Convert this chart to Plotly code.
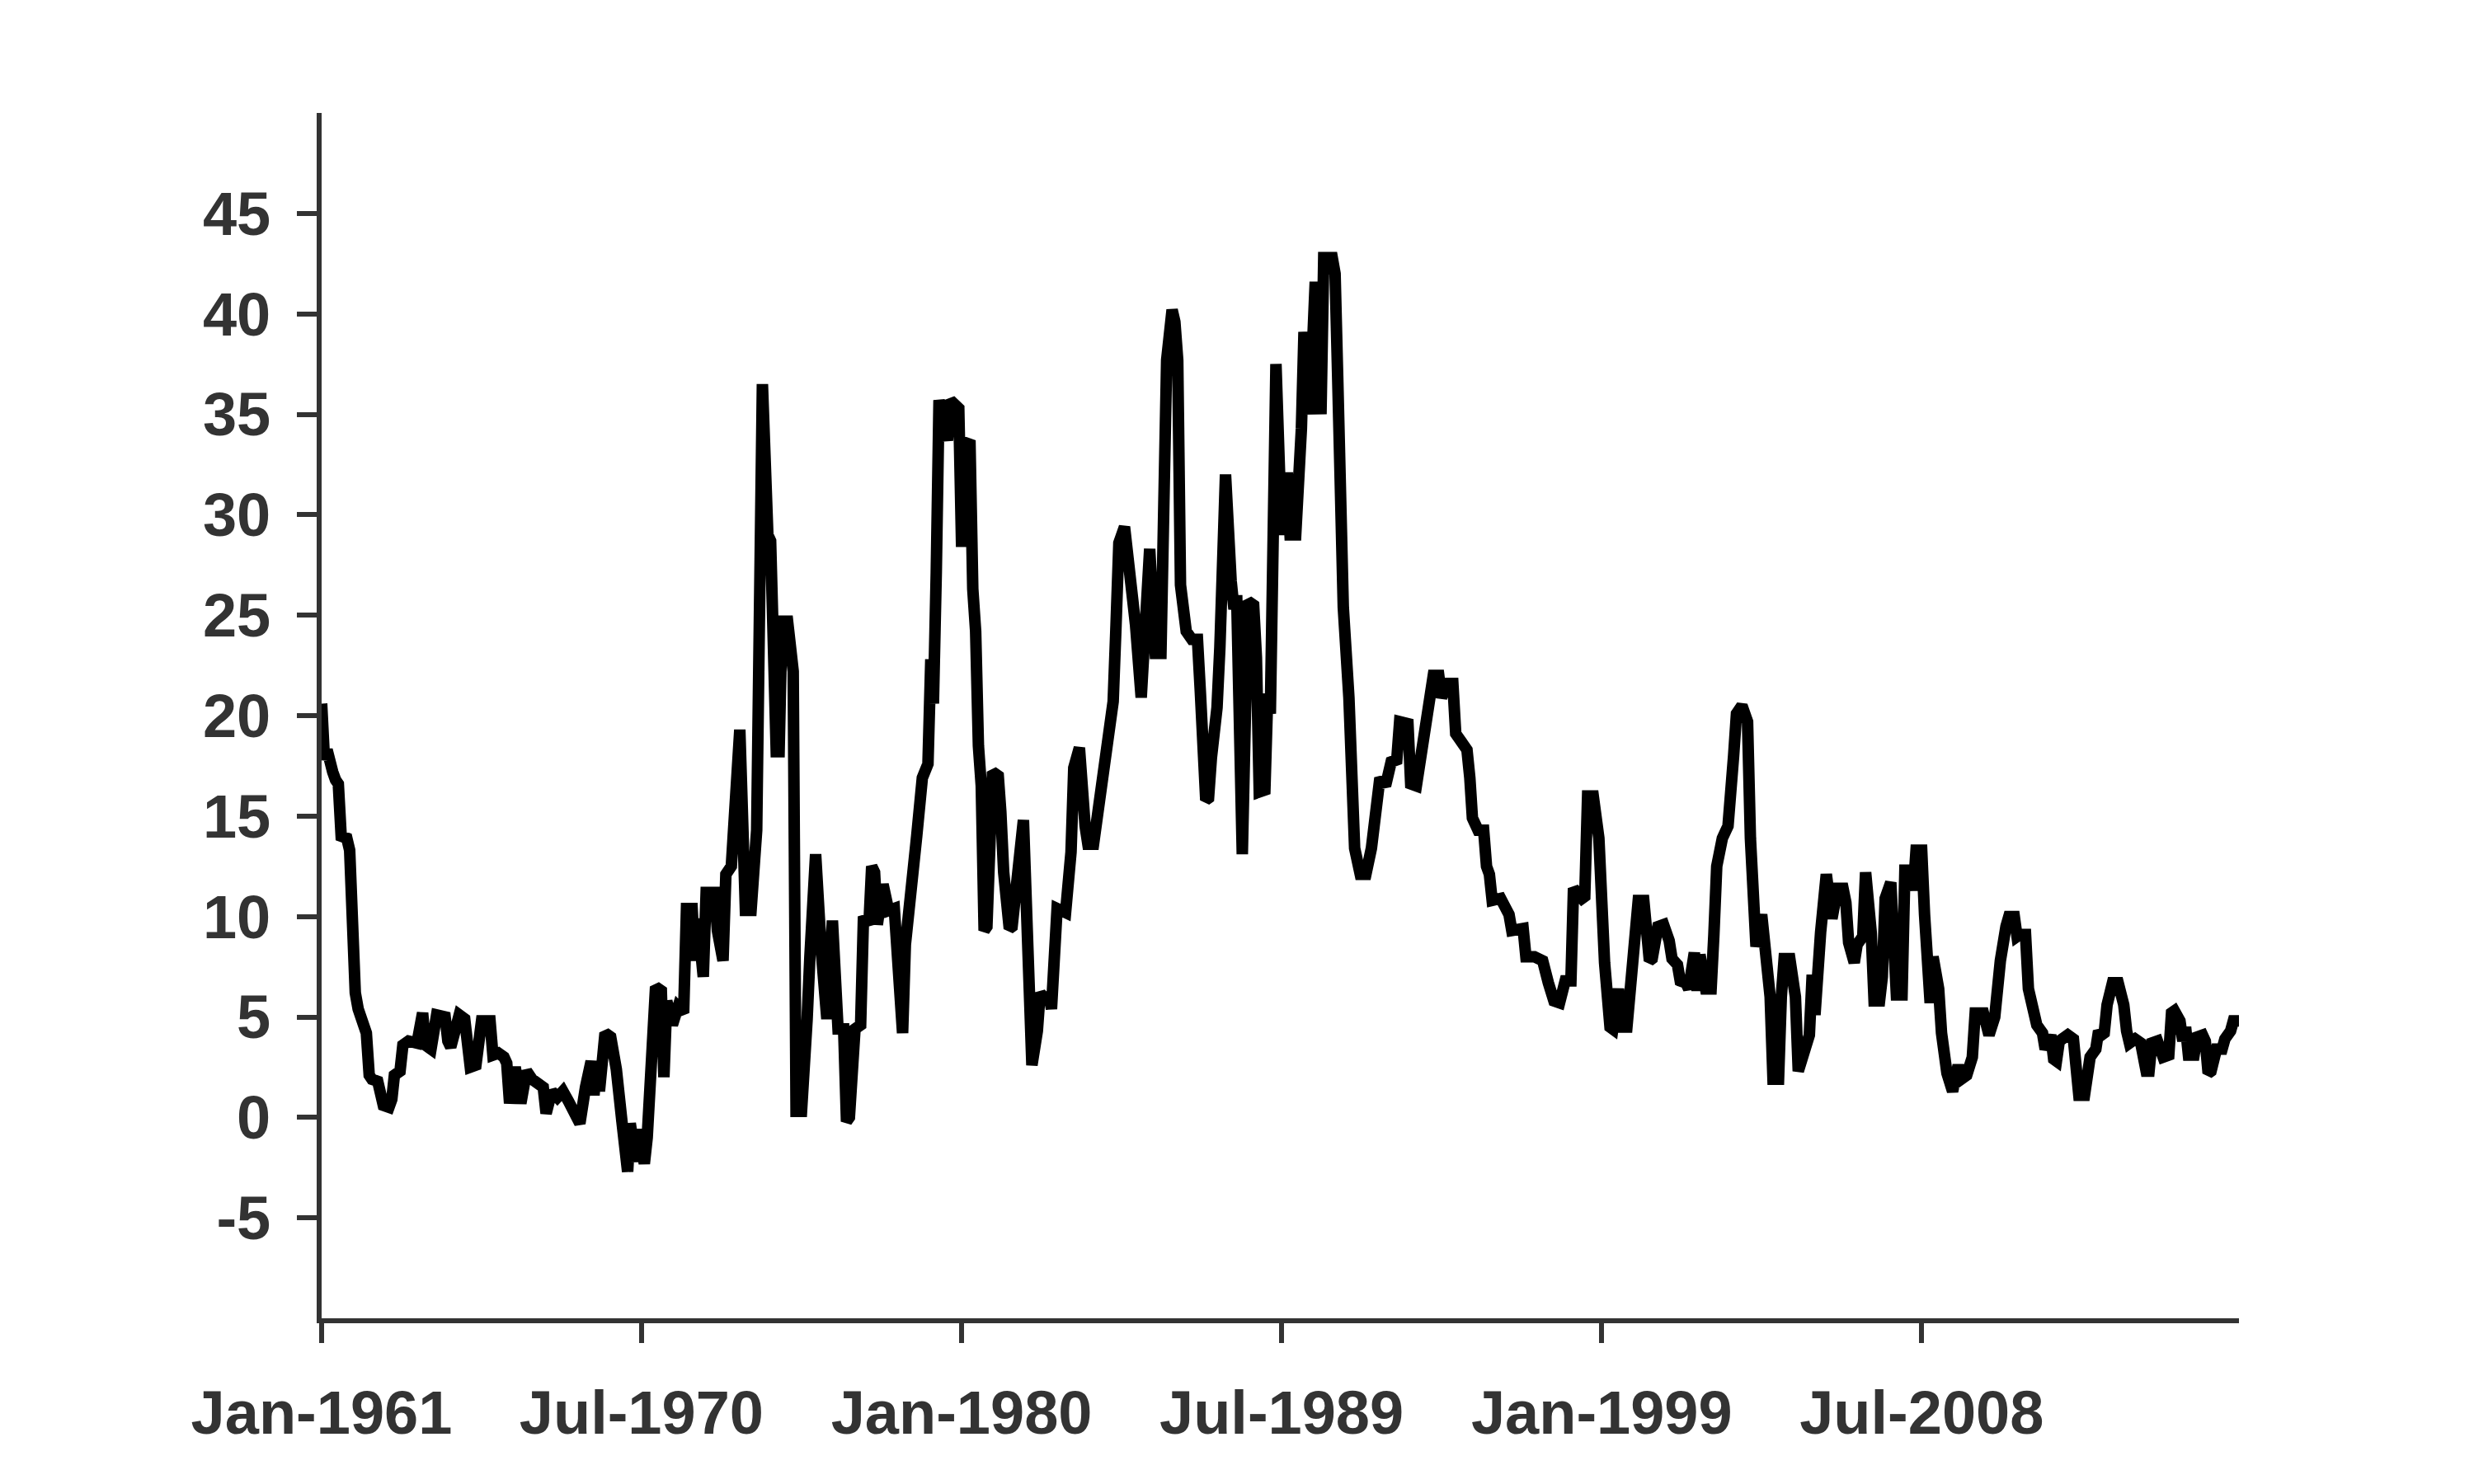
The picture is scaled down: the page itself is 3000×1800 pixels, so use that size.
import plotly.graph_objects as go

# ---- data (month, value) ----
dates = [
    "1961-01", "1961-02", "1961-03", "1961-04", "1961-05", "1961-06", "1961-07", "1961-08", "1961-10", "1961-11", "1961-12",
    "1962-01", "1962-02", "1962-03", "1962-05", "1962-06", "1962-07", "1962-09", "1962-10", "1962-11",
    "1963-01", "1963-02", "1963-03", "1963-05", "1963-06", "1963-08", "1963-11",
    "1964-01", "1964-02", "1964-04", "1964-06", "1964-09", "1964-10", "1964-11",
    "1965-02", "1965-04", "1965-06", "1965-08", "1965-10",
    "1966-01", "1966-02", "1966-04", "1966-06", "1966-07", "1966-08", "1966-10", "1966-12",
    "1967-02", "1967-04", "1967-06", "1967-08", "1967-09", "1967-11",
    "1968-01", "1968-03", "1968-05", "1968-08", "1968-09", "1968-11",
    "1969-01", "1969-02", "1969-03", "1969-04", "1969-06", "1969-08", "1969-10", "1969-12",
    "1970-02", "1970-03", "1970-05", "1970-06", "1970-08", "1970-09", "1970-10", "1970-12",
    "1971-02", "1971-03", "1971-04", "1971-06", "1971-08", "1971-10", "1971-11",
    "1972-01", "1972-02", "1972-03", "1972-05", "1972-06", "1972-09", "1972-10", "1972-12",
    "1973-01", "1973-03", "1973-04", "1973-06", "1973-08", "1973-10", "1973-12",
    "1974-02", "1974-04", "1974-05", "1974-07", "1974-08", "1974-09", "1974-11",
    "1975-01", "1975-02", "1975-04", "1975-05", "1975-06", "1975-07", "1975-09", "1975-11",
    "1976-01", "1976-03", "1976-05", "1976-07", "1976-08", "1976-09", "1976-11",
    "1977-01", "1977-02", "1977-04", "1977-05", "1977-06", "1977-07", "1977-09", "1977-11",
    "1978-01", "1978-03", "1978-04", "1978-05", "1978-07", "1978-09", "1978-11",
    "1979-01", "1979-02", "1979-03", "1979-04", "1979-05", "1979-08", "1979-09", "1979-12",
    "1980-01", "1980-02", "1980-04", "1980-05", "1980-06", "1980-07", "1980-08", "1980-09", "1980-10", "1980-12",
    "1981-02", "1981-03", "1981-04", "1981-06", "1981-07", "1981-11",
    "1982-02", "1982-04", "1982-05", "1982-07", "1982-08", "1982-09", "1982-11",
    "1983-02", "1983-04", "1983-05", "1983-07", "1983-09", "1983-10", "1983-12",
    "1984-02", "1984-04", "1984-05", "1984-07", "1984-08", "1984-09", "1984-11",
    "1985-01", "1985-02", "1985-03", "1985-05", "1985-07", "1985-08", "1985-10", "1985-12",
    "1986-02", "1986-04", "1986-05", "1986-06", "1986-07", "1986-09", "1986-11",
    "1987-01", "1987-02", "1987-04", "1987-05", "1987-06", "1987-07", "1987-08", "1987-09", "1987-11",
    "1988-01", "1988-02", "1988-03", "1988-05", "1988-07", "1988-09", "1988-10", "1988-11",
    "1989-01", "1989-02", "1989-03", "1989-05", "1989-07", "1989-09", "1989-10", "1989-12",
    "1990-02", "1990-03", "1990-05", "1990-07", "1990-09", "1990-10",
    "1991-01", "1991-02", "1991-03", "1991-04", "1991-05", "1991-07", "1991-08", "1991-09", "1991-11",
    "1992-01", "1992-03", "1992-05", "1992-06", "1992-08", "1992-10", "1992-12",
    "1993-01", "1993-04", "1993-05", "1993-07", "1993-09", "1993-11",
    "1994-01", "1994-03", "1994-04", "1994-06", "1994-08", "1994-09", "1994-11",
    "1995-01", "1995-02", "1995-03", "1995-05", "1995-07", "1995-08", "1995-09", "1995-10",
    "1996-01", "1996-04", "1996-05", "1996-09", "1996-10",
    "1997-01", "1997-04", "1997-06", "1997-08", "1997-10", "1997-12",
    "1998-02", "1998-03", "1998-06", "1998-07", "1998-08", "1998-10", "1998-12",
    "1999-01", "1999-02", "1999-04", "1999-05", "1999-07", "1999-08", "1999-10", "1999-12",
    "2000-02", "2000-04", "2000-06", "2000-07", "2000-09", "2000-11",
    "2001-01", "2001-02", "2001-04", "2001-05", "2001-07", "2001-08", "2001-10", "2001-11", "2001-12",
    "2002-02", "2002-04", "2002-05", "2002-06", "2002-08", "2002-10", "2002-12",
    "2003-01", "2003-03", "2003-05", "2003-06", "2003-07", "2003-08", "2003-10", "2003-11",
    "2004-01", "2004-02", "2004-04", "2004-05", "2004-06", "2004-08", "2004-10", "2004-11",
    "2005-01", "2005-03", "2005-04", "2005-05", "2005-07", "2005-09", "2005-11",
    "2006-01", "2006-03", "2006-04", "2006-05", "2006-07", "2006-08", "2006-10", "2006-11",
    "2007-01", "2007-02", "2007-04", "2007-05", "2007-06", "2007-08", "2007-10", "2007-12",
    "2008-01", "2008-03", "2008-04", "2008-05", "2008-07", "2008-08", "2008-09", "2008-10", "2008-11",
    "2009-01", "2009-02", "2009-03", "2009-04", "2009-06", "2009-08", "2009-09", "2009-11",
    "2010-01", "2010-02", "2010-05", "2010-06", "2010-07", "2010-09", "2010-10", "2010-11",
    "2011-01", "2011-02", "2011-04", "2011-05", "2011-06", "2011-08", "2011-09", "2011-10", "2011-12",
    "2012-02", "2012-03", "2012-04", "2012-05", "2012-06", "2012-07", "2012-08", "2012-10", "2012-11",
    "2013-01", "2013-02", "2013-03", "2013-05", "2013-06", "2013-07", "2013-09", "2013-10", "2013-11", "2013-12",
    "2014-01", "2014-02", "2014-03", "2014-05", "2014-07", "2014-08", "2014-09", "2014-11",
    "2015-01", "2015-03", "2015-04", "2015-05", "2015-07", "2015-09", "2015-11", "2015-12",
    "2016-01", "2016-03", "2016-04", "2016-05", "2016-06", "2016-08", "2016-09", "2016-11", "2016-12",
    "2017-01", "2017-02", "2017-04", "2017-06", "2017-07", "2017-09", "2017-10", "2017-12",
]

values = [
    20.6, 17.8, 18.3, 17.5, 17.2, 16.8, 16.6, 14.0, 13.9, 13.3, 6.6,
    6.2, 5.4, 5.0, 4.2, 2.1, 1.9, 1.8, 1.1, 0.6,
    0.5, 0.9, 2.1, 2.3, 3.6, 3.8, 3.7,
    5.2, 3.6, 3.4, 5.1, 5.0, 3.8, 3.5,
    5.1, 4.9, 2.5, 2.6, 4.8,
    4.8, 3.1, 3.2, 3.0, 2.7, 0.7, 2.5, 0.7,
    2.3, 1.9, 1.7, 1.5, 0.2, 1.3,
    1.0, 1.3, 0.8, -0.3, -0.3, 1.5,
    2.8, 1.1, 2.8, 1.3, 4.2, 4.0, 2.4, -0.2,
    -2.7, -0.3, -2.2, -0.6, -2.3, -1.0, 1.9, 6.5,
    6.3, 2.0, 5.8, 4.6, 5.5, 5.2, 10.4,
    10.4, 7.8, 9.9, 7.0, 11.2, 11.2, 9.3, 7.8,
    12.1, 12.5, 15.1, 19.3, 10.3, 10.3, 14.3,
    36.5, 29.0, 28.7, 18.2, 18.2, 24.7, 24.7,
    22.2, 0.3, 0.3, 4.6, 4.9, 8.0, 13.1, 8.3,
    4.9, 9.8, 4.4, 4.4, -0.2, 0.0, 4.4,
    4.6, 10.0, 9.6, 12.5, 12.2, 9.6, 11.6, 10.3,
    10.4, 4.2, 4.2, 8.6, 10.9, 14.0, 16.9,
    17.6, 22.8, 20.6, 27.1, 35.7, 33.7, 35.7, 35.3,
    28.4, 33.6, 33.5, 26.3, 24.2, 18.5, 16.5, 9.3, 9.5, 17.2,
    17.0, 15.2, 12.2, 9.4, 9.5, 14.8,
    2.6, 4.3, 6.2, 5.8, 6.2, 5.4, 10.4,
    10.2, 13.2, 17.4, 18.4, 14.5, 13.6, 13.6,
    15.7, 17.4, 19.0, 20.7, 24.5, 28.6, 29.4,
    27.2, 25.6, 24.5, 20.9, 28.3, 28.3, 23.1, 23.1,
    37.7, 40.2, 39.6, 37.7, 26.5, 24.2, 23.8,
    23.8, 21.2, 15.8, 15.9, 17.9, 19.0, 20.4, 23.4, 32.0,
    26.7, 25.3, 26.0, 13.1, 25.7, 25.5, 22.9, 16.2,
    16.3, 21.1, 20.1, 37.5, 29.0, 32.1, 29.0, 29.0,
    34.3, 39.1, 35.0, 41.6, 35.0, 42.8,
    42.8, 42.0, 36.9, 32.0, 25.4, 20.9, 15.8, 13.4, 12.1,
    12.1, 13.4, 16.5, 16.9, 16.5, 17.7, 17.8,
    19.7, 19.6, 16.6, 16.5, 18.7, 20.5,
    22.0, 22.0, 20.9, 21.6, 21.6, 19.1, 18.7,
    18.3, 16.9, 14.9, 14.3, 14.3, 12.5, 12.1, 10.8,
    10.9, 10.1, 9.3, 9.4, 8.0,
    8.0, 7.8, 6.7, 5.8, 5.7, 6.8,
    6.8, 11.4, 10.9, 11.0, 16.0, 16.0, 13.9,
    10.6, 7.7, 4.5, 4.4, 6.4, 4.5, 4.5, 7.1,
    10.8, 10.8, 7.8, 7.9, 9.5, 9.6,
    8.8, 7.9, 7.6, 6.8, 6.7, 6.4, 8.2, 6.3, 8.1,
    6.4, 6.4, 9.1, 12.5, 13.9, 14.5, 18.0,
    20.1, 20.5, 19.7, 13.9, 9.2, 8.5, 10.1, 8.4,
    6.0, 1.9, 1.9, 6.0, 7.9, 7.9, 6.0, 2.3,
    3.2, 4.1, 7.1, 5.1, 9.2, 12.1, 9.9,
    11.4, 11.4, 10.7, 8.7, 7.7, 8.6, 9.0, 12.2,
    9.2, 5.8, 5.8, 7.0, 10.9, 11.7, 6.1, 6.1,
    12.3, 12.3, 11.3, 13.3, 13.3, 10.1, 5.7, 5.7, 8.0,
    6.4, 4.2, 2.3, 2.2, 1.3, 2.6, 1.9, 2.1,
    3.0, 5.2, 5.2, 4.5, 4.1, 5.0, 7.1, 7.8,
    9.5, 10.0, 10.0, 9.0, 9.1, 9.1, 6.4, 5.6, 4.6,
    4.2, 3.4, 3.7, 4.1, 2.9, 2.8, 3.8, 3.9, 4.1,
    3.9, 1.7, 1.1, 1.1, 1.9, 3.0, 3.4, 4.3, 4.1, 4.2,
    5.6, 6.4, 6.7, 6.7, 5.6, 4.3, 3.7, 3.9,
    3.7, 2.3, 2.3, 3.7, 3.8, 3.0, 3.1, 5.2,
    5.3, 4.8, 3.8, 4.5, 3.1, 3.1, 4.0, 4.1, 3.8,
    2.2, 2.3, 3.4, 3.4, 3.9, 4.3, 4.8, 4.8,
]

x_tick_dates = ["1961-01-01", "1970-07-01", "1980-01-01", "1989-07-01", "1999-01-01", "2008-07-01"]
x_tick_labels = ["Jan-1961", "Jul-1970", "Jan-1980", "Jul-1989", "Jan-1999", "Jul-2008"]
y_tick_vals = [-5, 0, 5, 10, 15, 20, 25, 30, 35, 40, 45]
y_tick_labels = ["-5", "0", "5", "10", "15", "20", "25", "30", "35", "40", "45"]

AX = "#333333"
FONT = dict(family="Liberation Sans, Arial, Helvetica, sans-serif", size=74, color=AX, weight="bold")

fig = go.Figure()
fig.add_trace(go.Scatter(
    x=dates, y=values, mode="lines",
    line=dict(color="#000000", width=14),
    showlegend=False, hoverinfo="skip",
))

fig.update_layout(
    width=3000, height=1800, autosize=False,
    margin=dict(l=382, r=293, t=129, b=209, pad=0),
    paper_bgcolor="white", plot_bgcolor="white",
    font=FONT,
)
fig.update_xaxes(
    type="date",
    range=["1961-01-01", "2017-12-01"],
    tickmode="array", tickvals=x_tick_dates, ticktext=x_tick_labels,
    showgrid=False, zeroline=False,
    showline=True, linecolor=AX, linewidth=6,
    ticks="outside", ticklen=24, tickwidth=6, tickcolor=AX,
    tickfont=FONT, ticklabelstandoff=21,
)
fig.update_yaxes(
    range=[-10, 50],
    tickmode="array", tickvals=y_tick_vals, ticktext=y_tick_labels,
    showgrid=False, zeroline=False,
    showline=True, linecolor=AX, linewidth=6,
    ticks="outside", ticklen=24, tickwidth=6, tickcolor=AX,
    tickfont=FONT, ticklabelstandoff=17,
)

fig.write_html("out.html")
